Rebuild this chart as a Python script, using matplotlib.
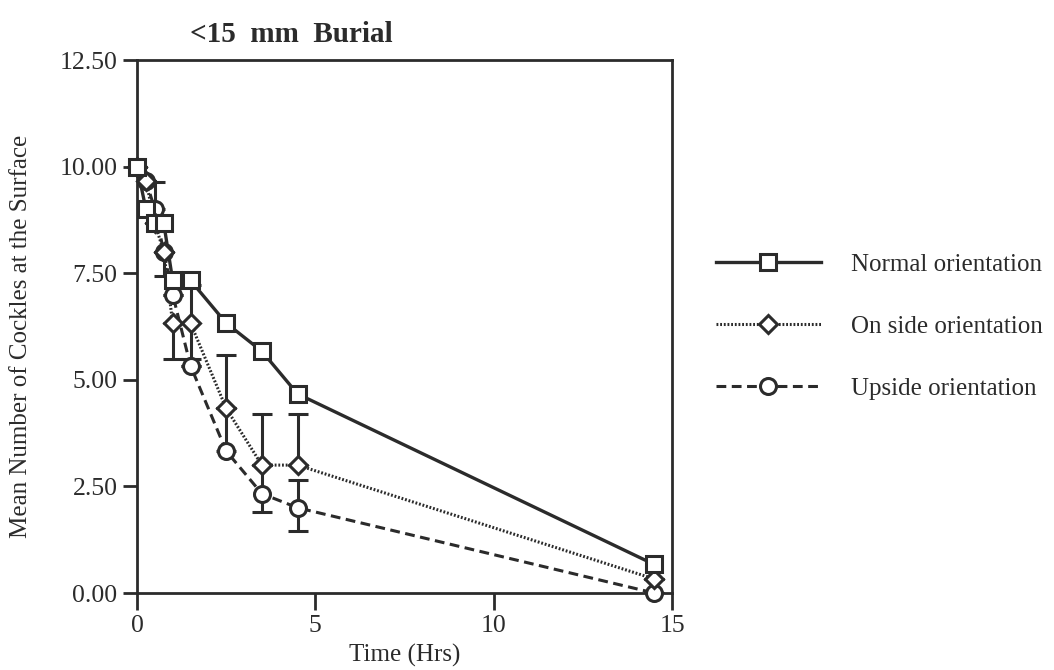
import matplotlib
matplotlib.use("Agg")
import matplotlib.pyplot as plt
from matplotlib.lines import Line2D
import numpy as np

# Sampling times (hours)
time_hrs = [0, 0.25, 0.5, 0.75, 1.0, 1.5, 2.5, 3.5, 4.5, 14.5]

# Mean number of cockles still at the surface
normal = [10.0, 9.0, 8.67, 8.67, 7.33, 7.33, 6.33, 5.67, 4.67, 0.67]
on_side = [10.0, 9.67, 8.67, 8.0, 6.33, 6.33, 4.33, 3.0, 3.0, 0.33]
upside = [10.0, 9.67, 9.0, 8.0, 7.0, 5.33, 3.33, 2.33, 2.0, 0.0]

# One-sided error bars (lower, upper)
on_side_err_lo = [0, 0, 0, 0, 0.83, 0.83, 0, 0, 0, 0]
on_side_err_hi = [0, 0, 0, 0, 0, 0.9, 1.25, 1.2, 1.2, 0]
upside_err_lo = [0, 0, 0, 0.57, 0, 0, 0, 0.43, 0.55, 0]
upside_err_hi = [0, 0, 0.65, 0, 0, 0, 1.0, 0.67, 0.65, 0]

series_labels = ["Normal orientation", "On side orientation", "Upside orientation"]
x_ticks = [0, 5, 10, 15]
y_ticks = [0.0, 2.5, 5.0, 7.5, 10.0, 12.5]

ink = "#2b2b2b"
plt.rcParams["font.family"] = ["Liberation Serif", "DejaVu Serif"]
plt.rcParams["text.color"] = ink

fig = plt.figure(figsize=(10.54, 6.70), dpi=100)
ax = fig.add_axes([0.13, 0.1149, 0.5076, 0.7955])

t = np.array(time_hrs)

ebkw = dict(fmt="none", ecolor=ink, elinewidth=2.2, capsize=7, capthick=2.2, zorder=2)
ax.errorbar(t, on_side, yerr=[on_side_err_lo, on_side_err_hi], **ebkw)
ax.errorbar(t, upside, yerr=[upside_err_lo, upside_err_hi], **ebkw)

solid_ls = "-"
dot_ls = (0, (0.6, 0.6))
dash_ls = (0, (3.2, 1.8))

ax.plot(t, normal, color=ink, lw=2.4, ls=solid_ls, zorder=3)
ax.plot(t, on_side, color=ink, lw=2.2, ls=dot_ls, zorder=3)
ax.plot(t, upside, color=ink, lw=2.2, ls=dash_ls, zorder=3)

mkw = dict(ls="none", mec=ink, mfc="white", mew=2.2, zorder=4, clip_on=False)
ax.plot(t, upside, marker="o", ms=11.5, **mkw)
ax.plot(t, on_side, marker="D", ms=9, **mkw)
ax.plot(t, normal, marker="s", ms=11.5, **mkw)

ax.set_xlim(0, 15)
ax.set_ylim(0, 12.5)
ax.set_xticks(x_ticks)
ax.set_yticks(y_ticks)
ax.set_yticklabels([f"{v:.2f}" for v in y_ticks])
ax.tick_params(direction="out", length=10, width=2, colors=ink, labelsize=18.5,
               top=False, right=False)
ax.tick_params(axis="x", length=12, pad=4)
ax.tick_params(axis="y", pad=4)
for sp in ax.spines.values():
    sp.set_color(ink)
    sp.set_linewidth(2)

ax.set_xlabel("Time (Hrs)", fontsize=18, color=ink, labelpad=5)
ax.set_ylabel("Mean Number of Cockles at the Surface", fontsize=18, color=ink)
ax.yaxis.set_label_coords(-0.196, 0.482)

fig.text(0.276, 0.949, "<15  mm  Burial", ha="center", va="center",
         fontsize=21, fontweight="bold", color=ink)

handles = [
    Line2D([], [], color=ink, lw=2.4, ls=solid_ls, marker="s", ms=11.5, mfc="white", mec=ink, mew=2.2),
    Line2D([], [], color=ink, lw=2.2, ls=dot_ls, marker="D", ms=9, mfc="white", mec=ink, mew=2.2),
    Line2D([], [], color=ink, lw=2.2, ls=dash_ls, marker="o", ms=11.5, mfc="white", mec=ink, mew=2.2),
]
fig.legend(handles, series_labels, loc="upper left", bbox_to_anchor=(0.679, 0.622),
           frameon=False, fontsize=18, handlelength=4.2, handletextpad=1.2,
           labelspacing=1.58, borderaxespad=0, borderpad=0)

fig.savefig("out.png", dpi=100)
